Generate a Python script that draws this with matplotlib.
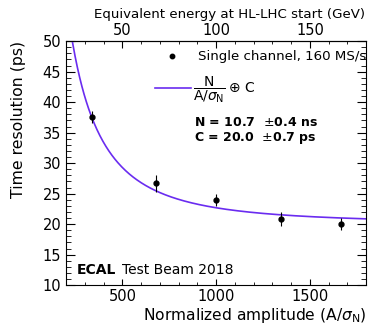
import numpy as np
import matplotlib
matplotlib.use("Agg")
import matplotlib.pyplot as plt
from matplotlib.ticker import MultipleLocator

plt.rcParams['font.family'] = ['DejaVu Sans']
plt.rcParams['mathtext.fontset'] = 'dejavusans'

amplitude = [337, 678, 998, 1347, 1665]
resolution = [37.6, 26.7, 24.0, 20.8, 20.0]
res_err = [0.95, 1.4, 1.0, 1.15, 0.95]
N_fit = 10.7e3  # ps
C_fit = 20.0

fig = plt.figure(figsize=(3.71, 3.24), dpi=100)
ax = fig.add_axes([0.178, 0.120, 0.809, 0.753])

xf = np.linspace(200, 1800, 400)
yf = np.sqrt((N_fit / xf) ** 2 + C_fit ** 2)
ax.plot(xf, yf, color='#6a2cf0', lw=1.2)
ax.errorbar(amplitude, resolution, yerr=res_err, fmt='o', color='black',
            ms=3.5, elinewidth=0.8, capsize=0)

ax.set_xlim(200, 1800)
ax.set_ylim(10, 50)
ax.xaxis.set_major_locator(MultipleLocator(500))
ax.xaxis.set_minor_locator(MultipleLocator(100))
ax.yaxis.set_major_locator(MultipleLocator(5))
ax.yaxis.set_minor_locator(MultipleLocator(1))
ax.tick_params(which='both', direction='in', right=True, top=False, labelsize=10.5)
ax.tick_params(axis='y', which='major', length=6.5, width=0.8)
ax.tick_params(axis='y', which='minor', length=3.6, width=0.6)
ax.tick_params(axis='x', which='major', length=4.5, width=0.8, pad=3)
ax.tick_params(axis='x', which='minor', length=2.5, width=0.6)
for s in ax.spines.values():
    s.set_linewidth(0.8)

sec = ax.secondary_xaxis('top', functions=(lambda a: a / 10.0, lambda e: e * 10.0))
sec.xaxis.set_major_locator(MultipleLocator(50))
sec.xaxis.set_minor_locator(MultipleLocator(10))
sec.tick_params(which='both', direction='in', labelsize=10.5, pad=2)
sec.tick_params(which='major', length=5, width=0.8)
sec.tick_params(which='minor', length=2.5, width=0.6)
sec.set_xlabel('Equivalent energy at HL-LHC start (GeV)', fontsize=9.6, loc='right', labelpad=4)
sec.xaxis.label.set_x(0.995)

ax.set_xlabel(r'Normalized amplitude (A/$\sigma_\mathrm{N}$)', fontsize=11.2, loc='right', labelpad=1)
ax.set_ylabel('Time resolution (ps)', fontsize=11.3, loc='top', labelpad=12)

# legend
ax.plot([0.352], [0.939], 'o', color='black', ms=3.2, transform=ax.transAxes, clip_on=False)
ax.text(0.439, 0.939, 'Single channel, 160 MS/s', transform=ax.transAxes,
        fontsize=9.6, va='center', ha='left')
ax.plot([0.296, 0.418], [0.807, 0.807], color='#6a2cf0', lw=1.2, transform=ax.transAxes)
ax.text(0.424, 0.80, r'$\dfrac{\mathrm{N}}{\mathrm{A}/\sigma_\mathrm{N}}\oplus\,\mathrm{C}$',
        transform=ax.transAxes, fontsize=10, va='center', ha='left')
ax.text(0.425, 0.668, r'N = 10.7  $\pm$0.4 ns', transform=ax.transAxes,
        fontsize=9, fontweight='bold', va='center', ha='left')
ax.text(0.425, 0.602, r'C = 20.0  $\pm$0.7 ps', transform=ax.transAxes,
        fontsize=9, fontweight='bold', va='center', ha='left')

ax.text(0.037, 0.06, 'ECAL', transform=ax.transAxes, fontsize=10,
        fontweight='bold', va='center', ha='left')
ax.text(0.185, 0.06, 'Test Beam 2018', transform=ax.transAxes, fontsize=10,
        va='center', ha='left')

fig.savefig('out.png', dpi=100)
